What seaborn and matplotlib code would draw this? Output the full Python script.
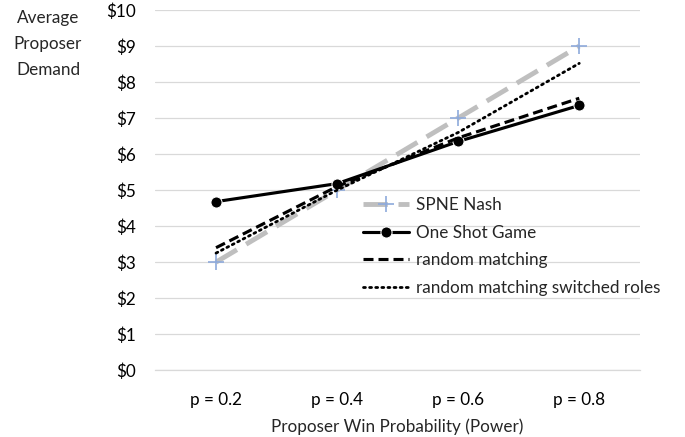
import matplotlib
matplotlib.use("Agg")
import matplotlib.pyplot as plt
import seaborn as sns
import pandas as pd

categories = ["p = 0.2", "p = 0.4", "p = 0.6", "p = 0.8"]
spne_nash = [3.0, 5.0, 7.0, 9.0]
one_shot = [4.68, 5.18, 6.35, 7.35]
random_matching = [3.4, 5.1, 6.45, 7.55]
switched_roles = [3.25, 5.0, 6.6, 8.52]

sns.set_theme(style="white")
plt.rcParams["font.family"] = ["Lato", "DejaVu Sans"]
fs = 12.3

df = pd.DataFrame({
    "p": categories,
    "SPNE Nash": spne_nash,
    "One Shot Game": one_shot,
    "random matching": random_matching,
    "random matching switched roles": switched_roles,
})

fig = plt.figure(figsize=(6.85, 4.37), dpi=100)
ax = fig.add_axes([0.227, 0.153, 0.707, 0.824])

sns.lineplot(data=df, x="p", y="SPNE Nash", ax=ax, color="#bfbfbf", linewidth=3.5,
             label="SPNE Nash", marker="+", markersize=11,
             markeredgecolor="#8eaadb", markeredgewidth=1.2, sort=False)
ax.lines[-1].set_dashes([5, 2.2])
sns.lineplot(data=df, x="p", y="One Shot Game", ax=ax, color="black", linewidth=2.25,
             marker="o", markersize=8, label="One Shot Game", sort=False)
sns.lineplot(data=df, x="p", y="random matching", ax=ax, color="black", linewidth=2.25,
             label="random matching", sort=False)
ax.lines[-1].set_dashes([3.2, 1.6])
sns.lineplot(data=df, x="p", y="random matching switched roles", ax=ax, color="black",
             linewidth=2.0, label="random matching switched roles", sort=False)
ax.lines[-1].set_dashes([0.7, 1.5])
ax.lines[-1].set_dash_capstyle("round")

ax.set_xlim(-0.5, 3.5)
ax.set_ylim(0, 10)
ax.set_yticks(range(0, 11))
ax.set_yticklabels([f"${v}" for v in range(0, 11)])
ax.yaxis.grid(True, color="#d9d9d9", linewidth=0.9)
ax.set_axisbelow(True)
for s in ["top", "right", "left"]:
    ax.spines[s].set_visible(False)
ax.spines["bottom"].set_color("#d9d9d9")
ax.spines["bottom"].set_linewidth(0.9)
ax.tick_params(axis="both", length=0, labelsize=fs, colors="black")
ax.tick_params(axis="x", pad=16)
ax.tick_params(axis="y", pad=14)

ax.set_ylabel("")
ax.set_xlabel("Proposer Win Probability (Power)", fontsize=fs, labelpad=7)
fig.text(0.070, 0.977, "Average\nProposer\nDemand", ha="center", va="top",
         fontsize=fs, linespacing=1.75)

ax.legend(loc="upper left", bbox_to_anchor=(0.52, 0.565), bbox_transform=fig.transFigure,
          frameon=False, fontsize=fs, handlelength=2.7, handletextpad=0.4,
          labelspacing=0.68, borderaxespad=0)

fig.savefig("out.png", dpi=100)
